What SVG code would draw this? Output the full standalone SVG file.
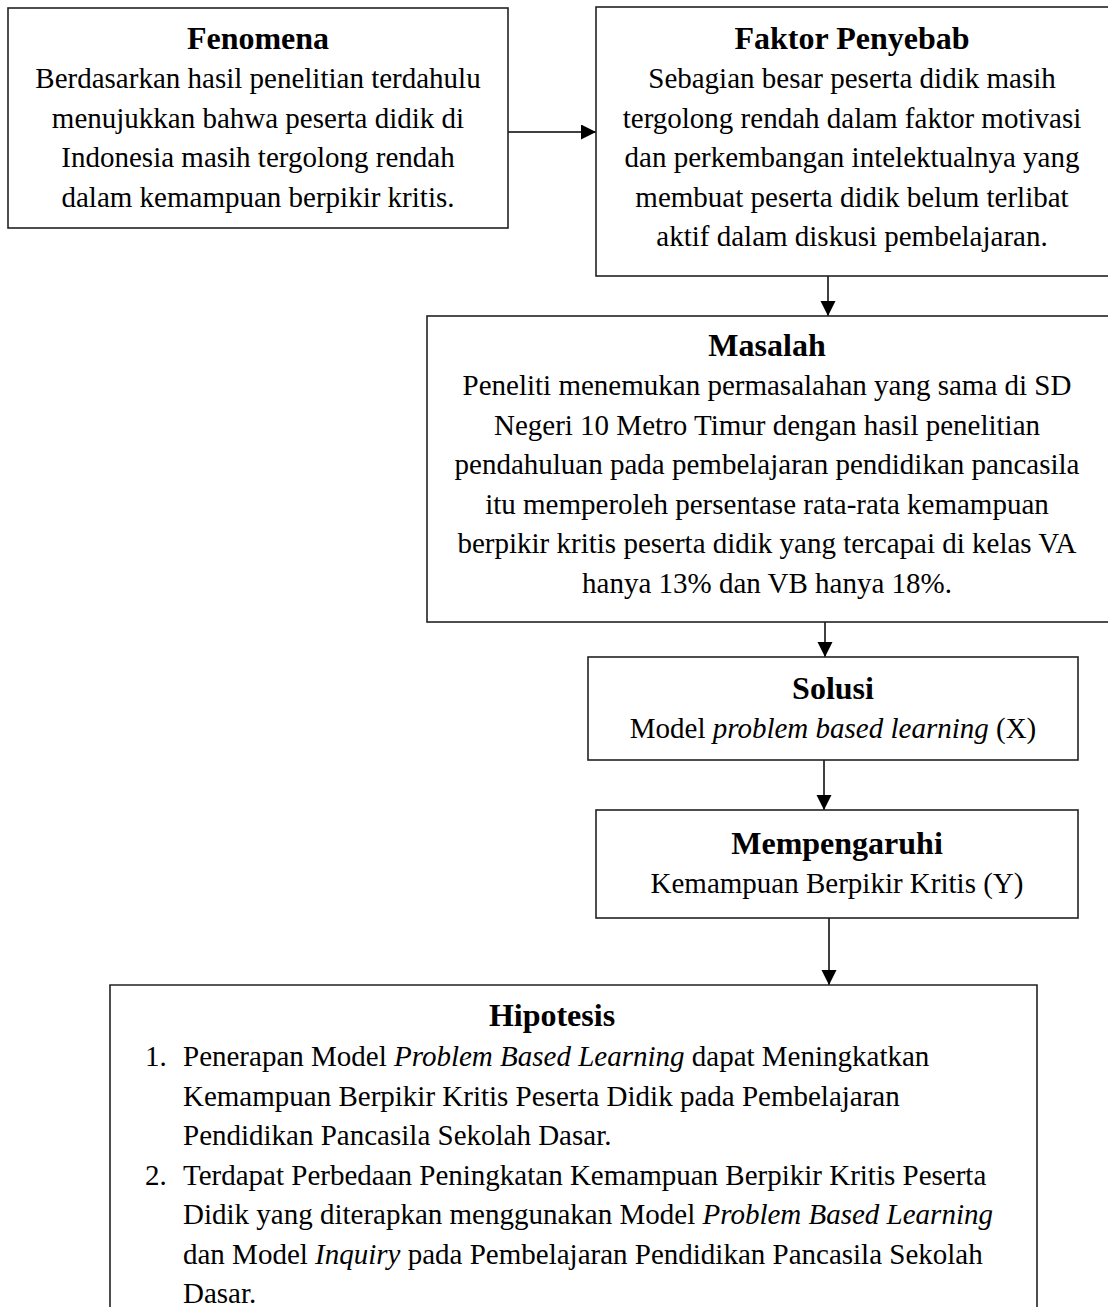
<svg xmlns="http://www.w3.org/2000/svg" width="1108" height="1307" viewBox="0 0 1108 1307">
<style>
.box{fill:#fff;stroke:#222;stroke-width:1.6}
.t{font-family:"Liberation Serif","Times New Roman",serif;font-size:32px;font-weight:bold;fill:#000;text-anchor:middle}
.b{font-family:"Liberation Serif","Times New Roman",serif;font-size:29px;fill:#000;text-anchor:middle}
.l{font-family:"Liberation Serif","Times New Roman",serif;font-size:29px;fill:#000}
.i{font-style:italic}
.c{stroke:#000;stroke-width:1.5;fill:none}
</style>
<defs>
<marker id="ah" markerUnits="userSpaceOnUse" markerWidth="16" markerHeight="16" refX="15" refY="7.5" orient="auto">
<path d="M0,0 L15,7.5 L0,15 z" fill="#000"/>
</marker>
</defs>
<rect width="1108" height="1307" fill="#fff"/>
<g id="connectors">
<line class="c" x1="505" y1="132" x2="596" y2="132" marker-end="url(#ah)"/>
<line class="c" x1="828" y1="276" x2="828" y2="316" marker-end="url(#ah)"/>
<line class="c" x1="825" y1="622" x2="825" y2="657" marker-end="url(#ah)"/>
<line class="c" x1="824" y1="760" x2="824" y2="810" marker-end="url(#ah)"/>
<line class="c" x1="829" y1="918" x2="829" y2="985" marker-end="url(#ah)"/>
</g>
<g id="fenomena">
<rect class="box" x="8" y="8" width="500" height="220"/>
<text class="t" x="258" y="49">Fenomena</text>
<text class="b" x="258" y="88">Berdasarkan hasil penelitian terdahulu</text>
<text class="b" x="258" y="127.5">menujukkan bahwa peserta didik di</text>
<text class="b" x="258" y="167">Indonesia masih tergolong rendah</text>
<text class="b" x="258" y="206.5">dalam kemampuan berpikir kritis.</text>
</g>
<g id="faktor">
<rect class="box" x="596" y="7" width="520" height="269"/>
<text class="t" x="852" y="49">Faktor Penyebab</text>
<text class="b" x="852" y="88">Sebagian besar peserta didik masih</text>
<text class="b" x="852" y="127.5">tergolong rendah dalam faktor motivasi</text>
<text class="b" x="852" y="167">dan perkembangan intelektualnya yang</text>
<text class="b" x="852" y="206.5">membuat peserta didik belum terlibat</text>
<text class="b" x="852" y="246">aktif dalam diskusi pembelajaran.</text>
</g>
<g id="masalah">
<rect class="box" x="427" y="316" width="690" height="306"/>
<text class="t" x="767" y="356">Masalah</text>
<text class="b" x="767" y="395">Peneliti menemukan permasalahan yang sama di SD</text>
<text class="b" x="767" y="434.5">Negeri 10 Metro Timur dengan hasil penelitian</text>
<text class="b" x="767" y="474">pendahuluan pada pembelajaran pendidikan pancasila</text>
<text class="b" x="767" y="513.5">itu memperoleh persentase rata-rata kemampuan</text>
<text class="b" x="767" y="553">berpikir kritis peserta didik yang tercapai di kelas VA</text>
<text class="b" x="767" y="592.5">hanya 13% dan VB hanya 18%.</text>
</g>
<g id="solusi">
<rect class="box" x="588" y="657" width="490" height="103"/>
<text class="t" x="833" y="699">Solusi</text>
<text class="b" x="833" y="738">Model <tspan class="i">problem based learning</tspan> (X)</text>
</g>
<g id="mempengaruhi">
<rect class="box" x="596" y="810" width="482" height="108"/>
<text class="t" x="837" y="854">Mempengaruhi</text>
<text class="b" x="837" y="893">Kemampuan Berpikir Kritis (Y)</text>
</g>
<g id="hipotesis">
<path class="box" d="M110,1320 L110,985 L1037,985 L1037,1320"/>
<text class="t" x="552" y="1026">Hipotesis</text>
<text class="l" x="145" y="1066">1.</text>
<text class="l" x="183" y="1066">Penerapan Model <tspan class="i">Problem Based Learning</tspan> dapat Meningkatkan</text>
<text class="l" x="183" y="1105.5">Kemampuan Berpikir Kritis Peserta Didik pada Pembelajaran</text>
<text class="l" x="183" y="1145">Pendidikan Pancasila Sekolah Dasar.</text>
<text class="l" x="145" y="1184.5">2.</text>
<text class="l" x="183" y="1184.5">Terdapat Perbedaan Peningkatan Kemampuan Berpikir Kritis Peserta</text>
<text class="l" x="183" y="1224">Didik yang diterapkan menggunakan Model <tspan class="i">Problem Based Learning</tspan></text>
<text class="l" x="183" y="1263.5">dan Model <tspan class="i">Inquiry</tspan> pada Pembelajaran Pendidikan Pancasila Sekolah</text>
<text class="l" x="183" y="1303">Dasar.</text>
</g>
</svg>
